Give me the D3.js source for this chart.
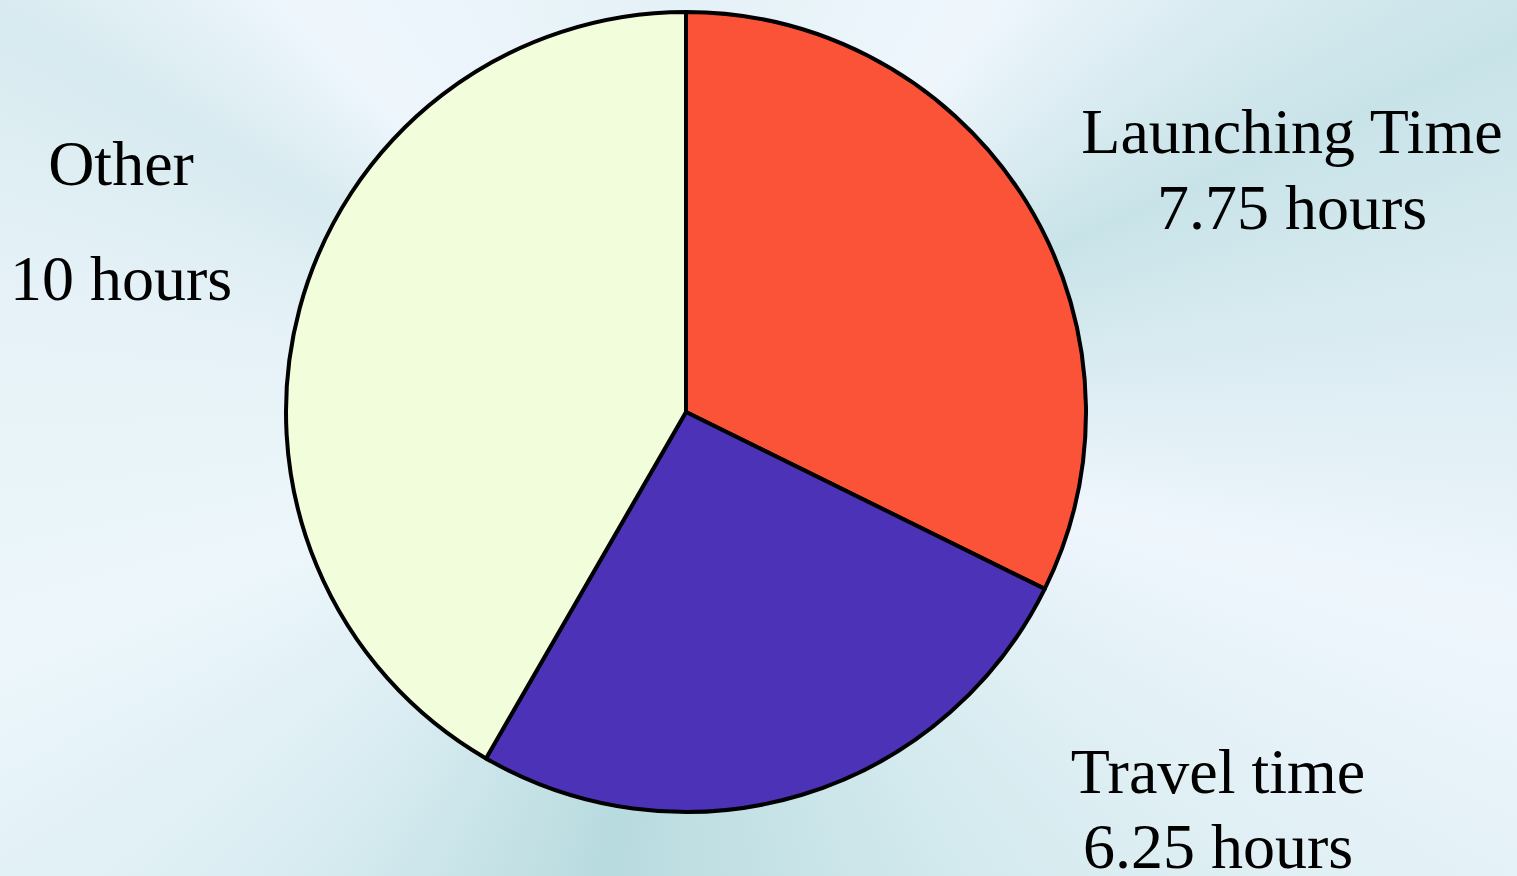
<!DOCTYPE html>
<html>
<head>
<meta charset="utf-8">
<script src="https://cdn.jsdelivr.net/npm/d3@7"></script>
<style>
  html, body { margin: 0; padding: 0; width: 1517px; height: 876px; overflow: hidden; }
  body {
    background: conic-gradient(from 0deg at 686px 412px,
      #E4F1F6 0deg, #EEF6FC 37deg, #C8E3E8 66deg, #EEF6FC 104deg,
      #D2E9ED 150deg, #B8DBDF 190deg, #DCEEF3 225deg, #ECF6FB 250deg,
      #E6F2F7 280deg, #D8EBF0 300deg, #EEF6FC 316deg, #E4F1F6 360deg);
  }
  svg { display: block; }
  text { font-family: "Liberation Serif", "Times New Roman", serif; font-size: 64px; fill: #000; }
</style>
</head>
<body>
<svg id="chart" width="1517" height="876"></svg>
<script>
const categories = ["Launching Time", "Travel time", "Other"];
const values = [7.75, 6.25, 10];
const valueLabels = ["7.75 hours", "6.25 hours", "10 hours"];
const colors = ["#FB5337", "#4B32B6", "#F2FDDC"];

const width = 1517, height = 876;
const cx = 686, cy = 412, radius = 400;

const svg = d3.select("#chart");
const g = svg.append("g").attr("transform", `translate(${cx},${cy})`);

const pie = d3.pie().sort(null).value(d => d.value);
const arc = d3.arc().innerRadius(0).outerRadius(radius);
const data = categories.map((c, i) => ({ name: c, value: values[i], label: valueLabels[i], color: colors[i] }));

g.selectAll("path")
  .data(pie(data))
  .join("path")
  .attr("d", arc)
  .attr("fill", d => d.data.color)
  .attr("stroke", "#000")
  .attr("stroke-width", 4)
  .attr("stroke-linejoin", "round");

// label placement (absolute), per category
const labelPos = [
  { x: 1292, y1: 153, y2: 229 },
  { x: 1218, y1: 793, y2: 868 },
  { x: 121, y1: 185, y2: 300 }
];

const lbl = svg.append("g");
data.forEach((d, i) => {
  const p = labelPos[i];
  lbl.append("text").attr("x", p.x).attr("y", p.y1).attr("text-anchor", "middle").text(d.name === "Other" ? "Other" : d.name);
  lbl.append("text").attr("x", p.x).attr("y", p.y2).attr("text-anchor", "middle").text(d.label);
});
</script>
</body>
</html>
